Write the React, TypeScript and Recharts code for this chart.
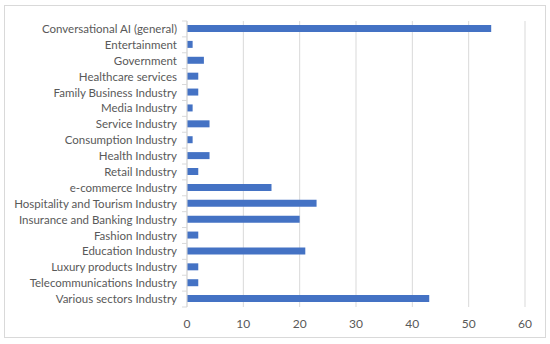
import React from "react";
import { BarChart, Bar, XAxis, YAxis, CartesianGrid } from "recharts";

const categories = [
  "Conversational AI (general)",
  "Entertainment",
  "Government",
  "Healthcare services",
  "Family Business Industry",
  "Media Industry",
  "Service Industry",
  "Consumption Industry",
  "Health Industry",
  "Retail Industry",
  "e-commerce Industry",
  "Hospitality and Tourism Industry",
  "Insurance and Banking Industry",
  "Fashion Industry",
  "Education Industry",
  "Luxury products Industry",
  "Telecommunications Industry",
  "Various sectors Industry",
];

const values = [54, 1, 3, 2, 2, 1, 4, 1, 4, 2, 15, 23, 20, 2, 21, 2, 2, 43];

const xTicks = [0, 10, 20, 30, 40, 50, 60];

const data = categories.map((name, i) => ({ name, value: values[i] }));

const FONT = "Lato, 'Open Sans', sans-serif";
const TEXT = "#595959";
const GRID = "#d9d9d9";

const CategoryTick = (props: any) => {
  const { x, y, payload, index } = props;
  const half = payload && typeof payload.offset === "number" ? payload.offset : 8;
  const axisX = x + 10;
  const last = index === categories.length - 1;
  return (
    <g>
      <line x1={axisX - 5} x2={axisX} y1={y - half} y2={y - half} stroke={GRID} />
      {last && (
        <line x1={axisX - 5} x2={axisX} y1={y + half} y2={y + half} stroke={GRID} />
      )}
      <text
        x={x}
        y={y}
        dy={4}
        textAnchor="end"
        fill={TEXT}
        fontSize={11.5}
        fontFamily={FONT}
      >
        {payload.value}
      </text>
    </g>
  );
};

export default function App() {
  return (
    <div style={{ position: "absolute", left: 0, top: 0, width: 550, height: 344, background: "#fff" }}>
      <div
        style={{
          position: "absolute",
          left: 4,
          top: 5,
          width: 542,
          height: 333,
          border: "1px solid #d9d9d9",
          boxSizing: "border-box",
        }}
      />
      <div style={{ position: "absolute", left: 0, top: 0 }}>
        <BarChart
          width={550}
          height={344}
          data={data}
          layout="vertical"
          margin={{ top: 21, right: 25, bottom: 7, left: 6 }}
          barCategoryGap={0}
        >
          <CartesianGrid horizontal={false} stroke={GRID} strokeWidth={1} />
          <XAxis
            type="number"
            domain={[0, 60]}
            ticks={xTicks}
            axisLine={false}
            tickLine={false}
            height={30}
            tick={{ fill: TEXT, fontSize: 12, fontFamily: FONT }}
            tickMargin={6}
          />
          <YAxis
            type="category"
            dataKey="name"
            width={181}
            axisLine={{ stroke: GRID }}
            tickLine={false}
            tickSize={0}
            tickMargin={10}
            interval={0}
            tick={<CategoryTick />}
          />
          <Bar dataKey="value" fill="#4472C4" barSize={7} isAnimationActive={false} />
        </BarChart>
      </div>
    </div>
  );
}
